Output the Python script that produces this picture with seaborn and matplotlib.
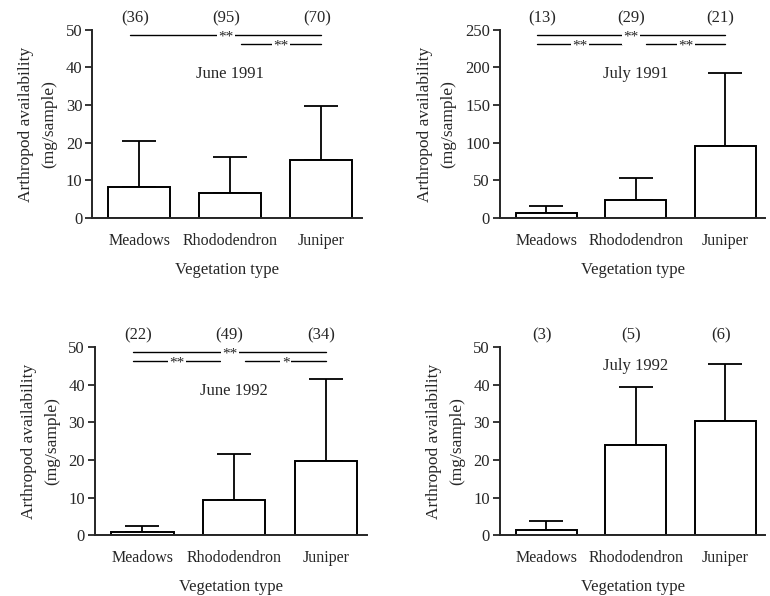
import numpy as np
import pandas as pd
import seaborn as sns
import matplotlib.pyplot as plt
import matplotlib.transforms as mtransforms

veg = ['Meadows', 'Rhododendron', 'Juniper']

# panel data
titles = ['June 1991', 'July 1991', 'June 1992', 'July 1992']
counts = [[36, 95, 70], [13, 29, 21], [22, 49, 34], [3, 5, 6]]
means = [[8.2, 6.6, 15.5], [7, 24, 96], [0.8, 9.3, 19.7], [1.3, 24, 30.3]]
err_top = [[20.6, 16.3, 29.8], [16, 53, 192], [2.5, 21.6, 41.5], [3.9, 39.3, 45.5]]
ymax = [50, 250, 50, 50]
yticks = [[0, 10, 20, 30, 40, 50], [0, 50, 100, 150, 200, 250],
          [0, 10, 20, 30, 40, 50], [0, 10, 20, 30, 40, 50]]
# (cat i, cat j, stars, row)  row 0 = top line
sig = [
    [(0, 2, '**', 0), (1, 2, '**', 1)],
    [(0, 2, '**', 0), (0, 1, '**', 1), (1, 2, '**', 1)],
    [(0, 2, '**', 0), (0, 1, '**', 1), (1, 2, '*', 1)],
    [],
]

sns.set_style('ticks')
plt.rcParams['font.family'] = ['Liberation Serif', 'DejaVu Serif']
plt.rcParams['font.size'] = 11

fig = plt.figure(figsize=(7.7, 5.96), dpi=100)
rects = [
    [0.1195, 0.634, 0.351, 0.316],
    [0.649, 0.634, 0.345, 0.316],
    [0.123, 0.102, 0.354, 0.316],
    [0.649, 0.102, 0.345, 0.316],
]
title_y = [0.766, 0.766, 0.766, 0.9]

for k in range(4):
    ax = fig.add_axes(rects[k])
    df = pd.DataFrame({'veg': veg, 'mean': means[k]})
    # error bars first, so bars sit on top of the lower part
    up = np.array(err_top[k]) - np.array(means[k])
    ax.errorbar(x=[0, 1, 2], y=means[k], yerr=[np.zeros(3), up], fmt='none',
                ecolor='black', elinewidth=1.3, capsize=12, capthick=1.3, zorder=1)
    sns.barplot(data=df, x='veg', y='mean', color='white', saturation=1,
                edgecolor='black', linewidth=1.4, width=0.68, errorbar=None,
                ax=ax, zorder=2)
    ax.set_xlim(-0.52, 2.45)
    ax.set_ylim(0, ymax[k])
    ax.set_yticks(yticks[k])
    ax.tick_params(axis='y', direction='out', length=5, width=1.3, labelsize=12, pad=2)
    ax.tick_params(axis='x', length=0, labelsize=11.5, pad=11)
    for s in ['top', 'right']:
        ax.spines[s].set_visible(False)
    for s in ['left', 'bottom']:
        ax.spines[s].set_linewidth(1.4)
    ax.set_xlabel('Vegetation type', fontsize=12, labelpad=9)
    ax.set_ylabel('Arthropod availability\n(mg/sample)', fontsize=12.5,
                  labelpad=6, linespacing=1.6)

    trans = mtransforms.blended_transform_factory(ax.transData, ax.transAxes)
    for i, n in enumerate(counts[k]):
        ax.text(i - 0.05, 1.062, '(%d)' % n, transform=trans, ha='center',
                va='center', fontsize=12)
    ax.text(1, title_y[k], titles[k], transform=trans, ha='center', va='center',
            fontsize=12)

    for i, j, stars, row in sig[k]:
        y = 0.975 if row == 0 else 0.925
        x0 = i - 0.1 if i == 0 else i + 0.12
        x1 = j - 0.15 if j == 1 else j
        ax.plot([x0, x1], [y, y], color='black', lw=1.0, transform=trans,
                clip_on=False)
        ax.text((x0 + x1) / 2, y - 0.012, stars, transform=trans, ha='center',
                va='center', fontsize=11,
                bbox=dict(facecolor='white', edgecolor='none', pad=1))

fig.savefig('out.png', dpi=100)
